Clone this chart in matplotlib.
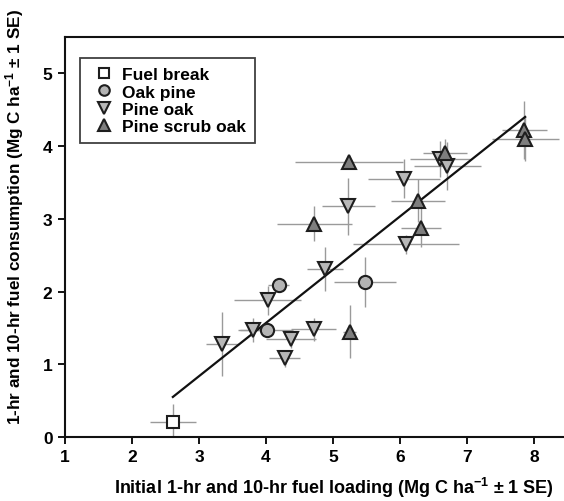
import numpy as np
import matplotlib
matplotlib.use('Agg')
import matplotlib.pyplot as plt

plt.rcParams['font.family'] = ['Liberation Sans', 'DejaVu Sans']
plt.rcParams['font.weight'] = 'bold'
plt.rcParams['mathtext.fontset'] = 'custom'
plt.rcParams['mathtext.rm'] = 'Liberation Sans'
plt.rcParams['mathtext.bf'] = 'Liberation Sans:bold'

# data: x = initial loading, y = consumption, with SE
fb_x = [2.61]
fb_y = [0.20]
fb_xerr = [0.34]
fb_yerr = [0.25]

op_x = [4.01, 4.19, 5.48]
op_y = [1.47, 2.09, 2.13]
op_xerr = [0.40, 0.16, 0.46]
op_yerr = [0.10, 0.08, 0.34]

po_x = [3.35, 3.81, 4.03, 4.28, 4.37, 4.71, 4.88, 5.23, 6.06, 6.09, 6.60, 6.71]
po_y = [1.28, 1.47, 1.88, 1.08, 1.35, 1.48, 2.31, 3.17, 3.55, 2.65, 3.82, 3.73]
po_xerr = [0.25, 0.22, 0.50, 0.23, 0.37, 0.34, 0.27, 0.40, 0.54, 0.79, 0.45, 0.50]
po_yerr = [0.44, 0.17, 0.20, 0.12, 0.12, 0.16, 0.30, 0.39, 0.27, 0.13, 0.25, 0.33]

pso_x = [4.72, 5.24, 5.25, 6.27, 6.31, 6.67, 7.86, 7.87]
pso_y = [2.93, 3.78, 1.45, 3.25, 2.88, 3.90, 4.22, 4.10]
pso_xerr = [0.56, 0.81, 0.10, 0.40, 0.30, 0.33, 0.33, 0.50]
pso_yerr = [0.24, 0.10, 0.37, 0.30, 0.27, 0.20, 0.40, 0.30]

# regression line
fit_slope = 0.732
fit_intercept = -1.36
fit_range = [2.61, 7.87]

fig = plt.figure(figsize=(5.64, 5.02), dpi=100)
ax = fig.add_axes([0.1153, 0.1275, 0.8847, 0.7968])

ecol = '#9a9a9a'
edge = '#1e1e1e'

def draw(x, y, xe, ye, marker, face, ms, label):
    ax.errorbar(x, y, xerr=xe, yerr=ye, fmt='none', ecolor=ecol, elinewidth=1.0, capsize=0, zorder=2)
    ax.plot(x, y, linestyle='none', marker=marker, markersize=ms, markerfacecolor=face,
            markeredgecolor=edge, markeredgewidth=1.5, label=label, zorder=4)

xl = np.array(fit_range)
ax.plot(xl, fit_slope * xl + fit_intercept, color='#111111', linewidth=1.6, zorder=3)

draw(fb_x, fb_y, fb_xerr, fb_yerr, 's', 'white', 8.5, 'Fuel break')
draw(op_x, op_y, op_xerr, op_yerr, 'o', '#b4b4b4', 9.5, 'Oak pine')
draw(po_x, po_y, po_xerr, po_yerr, 'v', '#b8b8b8', 10.5, 'Pine oak')
draw(pso_x, pso_y, pso_xerr, pso_yerr, '^', '#7e7e7e', 10.5, 'Pine scrub oak')

ax.set_xlim(1, 8.45)
ax.set_ylim(0, 5.5)
ax.set_xticks(range(1, 9))
ax.set_yticks(range(0, 6))
ax.spines['right'].set_visible(False)
for s in ['top', 'left', 'bottom']:
    ax.spines[s].set_linewidth(1.5)
    ax.spines[s].set_color('#111111')
ax.tick_params(direction='out', length=5, width=1.3, labelsize=12.5, pad=4)
for t in ax.get_xticklabels() + ax.get_yticklabels():
    t.set_fontweight('bold')

ax.set_xlabel(r'Initial 1-hr and 10-hr fuel loading (Mg C ha$\mathbf{^{-1}}$ ± 1 SE)',
              fontsize=13, fontweight='bold')
ax.set_ylabel(r'1-hr and 10-hr fuel consumption (Mg C ha$\mathbf{^{-1}}$ ± 1 SE)',
              fontsize=12.3, fontweight='bold')
ax.xaxis.set_label_coords(0.54, -0.095)
ax.yaxis.set_label_coords(-0.078, 0.553)

leg = ax.legend(loc='upper left', bbox_to_anchor=(0.012, 0.968), frameon=True,
                fancybox=False, handletextpad=0.15, labelspacing=0.12, borderpad=0.5,
                handlelength=1.8, markerscale=0.8, prop={'weight': 'bold', 'size': 12.5})
leg.get_frame().set_edgecolor('#111111')
leg.get_frame().set_linewidth(1.3)

fig.savefig('out.png', dpi=100)
